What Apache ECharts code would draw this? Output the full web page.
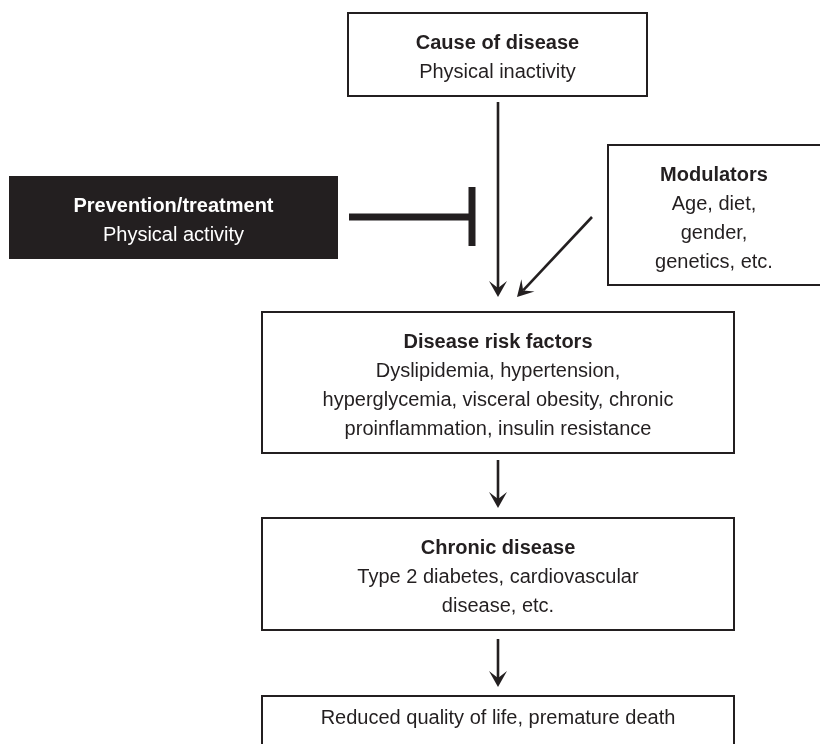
<!DOCTYPE html>
<html>
<head>
<meta charset="utf-8">
<script src="https://cdn.jsdelivr.net/npm/echarts@6/dist/echarts.min.js"></script>
<style>
html,body{margin:0;padding:0;background:#fff;}
#chart{width:820px;height:744px;}
</style>
</head>
<body>
<div id="chart"></div>
<script>
// ---- Diagram content (diagram units = page pixels on a 820 x 744 canvas) ----
const boxTitles = ['Cause of disease', 'Prevention/treatment', 'Modulators', 'Disease risk factors', 'Chronic disease', ''];
const boxBodies = [
  ['Physical inactivity'],
  ['Physical activity'],
  ['Age, diet,', 'gender,', 'genetics, etc.'],
  ['Dyslipidemia, hypertension,', 'hyperglycemia, visceral obesity, chronic', 'proinflammation, insulin resistance'],
  ['Type 2 diabetes, cardiovascular', 'disease, etc.'],
  ['Reduced quality of life, premature death']
];
const boxLeft   = [348,   9, 608, 262, 262, 262];
const boxRight  = [647, 338, 824, 734, 734, 734];
const boxTop    = [ 13, 176, 145, 312, 518, 696];
const boxBottom = [ 96, 259, 285, 453, 630, 770];
const boxFilled = [false, true, false, false, false, false];

// arrows: start point -> tip
const arrowFromX = [498, 592, 498, 498];
const arrowFromY = [102, 217, 460, 639];
const arrowToX   = [498, 517, 498, 498];
const arrowToY   = [297, 297, 508, 687];

// inhibition (T-bar) from prevention box to the causal pathway
const inhibitFromX = [349];
const inhibitToX   = [472];
const inhibitY     = [217];
const inhibitBarTop    = [187];
const inhibitBarBottom = [246];

const INK = '#231f20';
const FONT = '"Liberation Sans", Arial, Helvetica, sans-serif';

const chart = echarts.init(document.getElementById('chart'), null, {renderer: 'canvas'});

const boxData = boxTitles.map((t, i) => [boxLeft[i], boxTop[i], boxRight[i], boxBottom[i], i]);
const arrowData = arrowFromX.map((x, i) => [x, arrowFromY[i], arrowToX[i], arrowToY[i]]);
const inhibitData = inhibitFromX.map((x, i) => [x, inhibitY[i], inhibitToX[i], inhibitBarTop[i], inhibitBarBottom[i]]);

function renderBox(params, api) {
  const i = api.value(4);
  const p0 = api.coord([api.value(0), api.value(1)]);
  const p1 = api.coord([api.value(2), api.value(3)]);
  const filled = boxFilled[i];
  const color = filled ? '#ffffff' : INK;
  const parts = [];
  if (boxTitles[i]) parts.push('{t|' + boxTitles[i] + '}');
  boxBodies[i].forEach(s => parts.push('{s|' + s + '}'));
  const visBottom = Math.min(p1[1], api.coord([0, 734])[1]);
  const cx = (p0[0] + Math.min(p1[0], api.coord([820, 0])[0])) / 2;
  const cy = (p0[1] + visBottom) / 2 + 3.5;
  return {
    type: 'group',
    children: [
      {
        type: 'rect',
        shape: {x: p0[0], y: p0[1], width: p1[0] - p0[0], height: p1[1] - p0[1]},
        style: filled ? {fill: INK, stroke: null} : {fill: '#ffffff', stroke: INK, lineWidth: 2}
      },
      {
        type: 'text',
        style: {
          text: parts.join('\n'),
          x: cx, y: cy,
          align: 'center', verticalAlign: 'middle',
          rich: {
            t: {fontFamily: FONT, fontSize: 20, fontWeight: 'bold', fill: color, lineHeight: 29, align: 'center'},
            s: {fontFamily: FONT, fontSize: 20, fill: color, lineHeight: 29, align: 'center'}
          }
        }
      }
    ]
  };
}

function renderArrow(params, api) {
  const a = api.coord([api.value(0), api.value(1)]);
  const b = api.coord([api.value(2), api.value(3)]);
  const dx = b[0] - a[0], dy = b[1] - a[1];
  const len = Math.sqrt(dx * dx + dy * dy);
  const ux = dx / len, uy = dy / len;      // direction
  const nx = -uy, ny = ux;                 // normal
  const L = 16, W = 9, N = 9;
  const back = [b[0] - ux * L, b[1] - uy * L];
  const notch = [b[0] - ux * N, b[1] - uy * N];
  return {
    type: 'group',
    children: [
      {
        type: 'line',
        shape: {x1: a[0], y1: a[1], x2: notch[0], y2: notch[1]},
        style: {stroke: INK, lineWidth: 2.6}
      },
      {
        type: 'polygon',
        shape: {points: [
          b,
          [back[0] + nx * W, back[1] + ny * W],
          notch,
          [back[0] - nx * W, back[1] - ny * W]
        ]},
        style: {fill: INK}
      }
    ]
  };
}

function renderInhibit(params, api) {
  const a = api.coord([api.value(0), api.value(1)]);
  const b = api.coord([api.value(2), api.value(1)]);
  const t = api.coord([api.value(2), api.value(3)]);
  const u = api.coord([api.value(2), api.value(4)]);
  return {
    type: 'group',
    children: [
      {type: 'line', shape: {x1: a[0], y1: a[1], x2: b[0], y2: b[1]}, style: {stroke: INK, lineWidth: 7}},
      {type: 'line', shape: {x1: t[0], y1: t[1], x2: u[0], y2: u[1]}, style: {stroke: INK, lineWidth: 7}}
    ]
  };
}

chart.setOption({
  animation: false,
  backgroundColor: '#ffffff',
  grid: {left: 0, right: 0, top: 0, bottom: 0},
  xAxis: {type: 'value', min: 0, max: 820, show: false},
  yAxis: {type: 'value', min: 0, max: 744, inverse: true, show: false},
  series: [
    {type: 'custom', name: 'arrows', renderItem: renderArrow, data: arrowData, clip: false, silent: true, z: 2},
    {type: 'custom', name: 'inhibit', renderItem: renderInhibit, data: inhibitData, clip: false, silent: true, z: 2},
    {type: 'custom', name: 'boxes', renderItem: renderBox, data: boxData, clip: false, silent: true, z: 3}
  ]
});
</script>
</body>
</html>
